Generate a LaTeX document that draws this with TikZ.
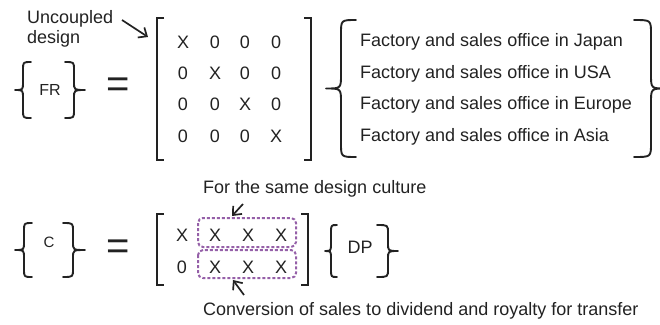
\documentclass[tikz,border=0pt]{standalone}
\usepackage{fontspec}
\setmainfont{Liberation Sans}
\usetikzlibrary{arrows.meta}
\definecolor{ink}{HTML}{222222}
\definecolor{boxpurple}{HTML}{9560A8}
\newcommand{\mybrace}[6]{%
  \draw[bracestyle] (#1,#4) .. controls (#2,#4) .. (#2,#4+#6)
    -- (#2,{(#4+#5)/2-#6}) .. controls (#2,{(#4+#5)/2}) .. (#3,{(#4+#5)/2})
    .. controls (#2,{(#4+#5)/2}) .. (#2,{(#4+#5)/2+#6})
    -- (#2,#5-#6) .. controls (#2,#5) .. (#1,#5);}
\begin{document}
\begin{tikzpicture}[x=1pt,y=-1pt,
  txt/.style={inner sep=0pt, text=ink, font=\fontsize{18}{20}\selectfont, anchor=base},
  entry/.style={txt},
  bracestyle/.style={draw=ink, line width=1.9pt, line cap=round, line join=round},
  bracket/.style={draw=ink, line width=2.6pt},
  eqsign/.style={inner sep=0pt, text=ink, font=\fontsize{40}{40}\selectfont},
  groupbox/.style={draw=boxpurple, line width=2pt, dash pattern=on 3pt off 2pt, rounded corners=5pt},
  callout/.style={draw=ink, line width=1.7pt, -{Straight Barb[length=7pt,width=12pt,line width=1.7pt]}}
]
\useasboundingbox (0,0) rectangle (660,324);

% ---------- top equation ----------
\node[txt, anchor=north west, align=left, font=\fontsize{18}{20}\selectfont] (uc) at (27,10) {Uncoupled\\design};
\coordinate (ucs) at (122,20);
\coordinate (uce) at (148,37);
\draw[callout] (ucs) -- (uce);

\mybrace{31}{23}{15}{62}{118}{8}
\node[txt, font=\fontsize{16}{18}\selectfont] (fr) at (50,95) {FR};
\mybrace{65}{74}{85}{62}{118}{8}

\node[eqsign] (eq1) at (118,88) {=};

\draw[bracket] (164,18) -- (157,18) -- (157,160) -- (164,160);
\draw[bracket] (304,18) -- (311,18) -- (311,160) -- (304,160);

\node[entry] (a11) at (183,48.5) {X};
\node[entry] (a12) at (215,48.5) {0};
\node[entry] (a13) at (245,48.5) {0};
\node[entry] (a14) at (276,48.5) {0};
\node[entry] (a21) at (183,79.5) {0};
\node[entry] (a22) at (215,79.5) {X};
\node[entry] (a23) at (245,79.5) {0};
\node[entry] (a24) at (276,79.5) {0};
\node[entry] (a31) at (183,110.5) {0};
\node[entry] (a32) at (215,110.5) {0};
\node[entry] (a33) at (245,110.5) {X};
\node[entry] (a34) at (276,110.5) {0};
\node[entry] (a41) at (183,142.5) {0};
\node[entry] (a42) at (215,142.5) {0};
\node[entry] (a43) at (245,142.5) {0};
\node[entry] (a44) at (276,142.5) {X};

\mybrace{356}{341}{326}{20}{157}{14}
\node[txt, anchor=base west] (d1) at (360,46.5) {Factory and sales office in Japan};
\node[txt, anchor=base west] (d2) at (360,78.5) {Factory and sales office in USA};
\node[txt, anchor=base west] (d3) at (360,109.5) {Factory and sales office in Europe};
\node[txt, anchor=base west] (d4) at (360,141.5) {Factory and sales office in Asia};
\mybrace{634}{651}{666}{20}{157}{14}

% ---------- bottom equation ----------
\node[txt, anchor=base west] (cult) at (203,193) {For the same design culture};
\node[txt, anchor=base west] (conv) at (203,315) {Conversion of sales to dividend and royalty for transfer};

\mybrace{32}{24}{15}{223}{277}{8}
\node[txt, font=\fontsize{15}{17}\selectfont] (c) at (49,247) {C};
\mybrace{63}{73}{85}{223}{277}{8}

\node[eqsign] (eq2) at (118,250) {=};

\draw[bracket] (164,214) -- (157,214) -- (157,285) -- (164,285);
\draw[bracket] (301,214) -- (308,214) -- (308,285) -- (301,285);

\node[entry] (b11) at (182,241.5) {X};
\node[entry] (b12) at (215,241.5) {X};
\node[entry] (b13) at (248,241.5) {X};
\node[entry] (b14) at (281,241.5) {X};
\node[entry] (b21) at (182,273.5) {0};
\node[entry] (b22) at (215,273.5) {X};
\node[entry] (b23) at (248,273.5) {X};
\node[entry] (b24) at (281,273.5) {X};

\draw[groupbox] (198,218) rectangle (296,247);
\draw[groupbox] (198,250) rectangle (296,278);
\coordinate (topbox) at (232,216);
\coordinate (botbox) at (233,280);
\coordinate (cultend) at (243,204);
\coordinate (convend) at (244,295);
\draw[callout] (cultend) -- (topbox);
\draw[callout] (convend) -- (botbox);

\mybrace{337}{331}{325}{225}{277}{8}
\node[txt] (dp) at (360,253) {DP};
\mybrace{377}{388}{398}{225}{277}{8}
\end{tikzpicture}
\end{document}
